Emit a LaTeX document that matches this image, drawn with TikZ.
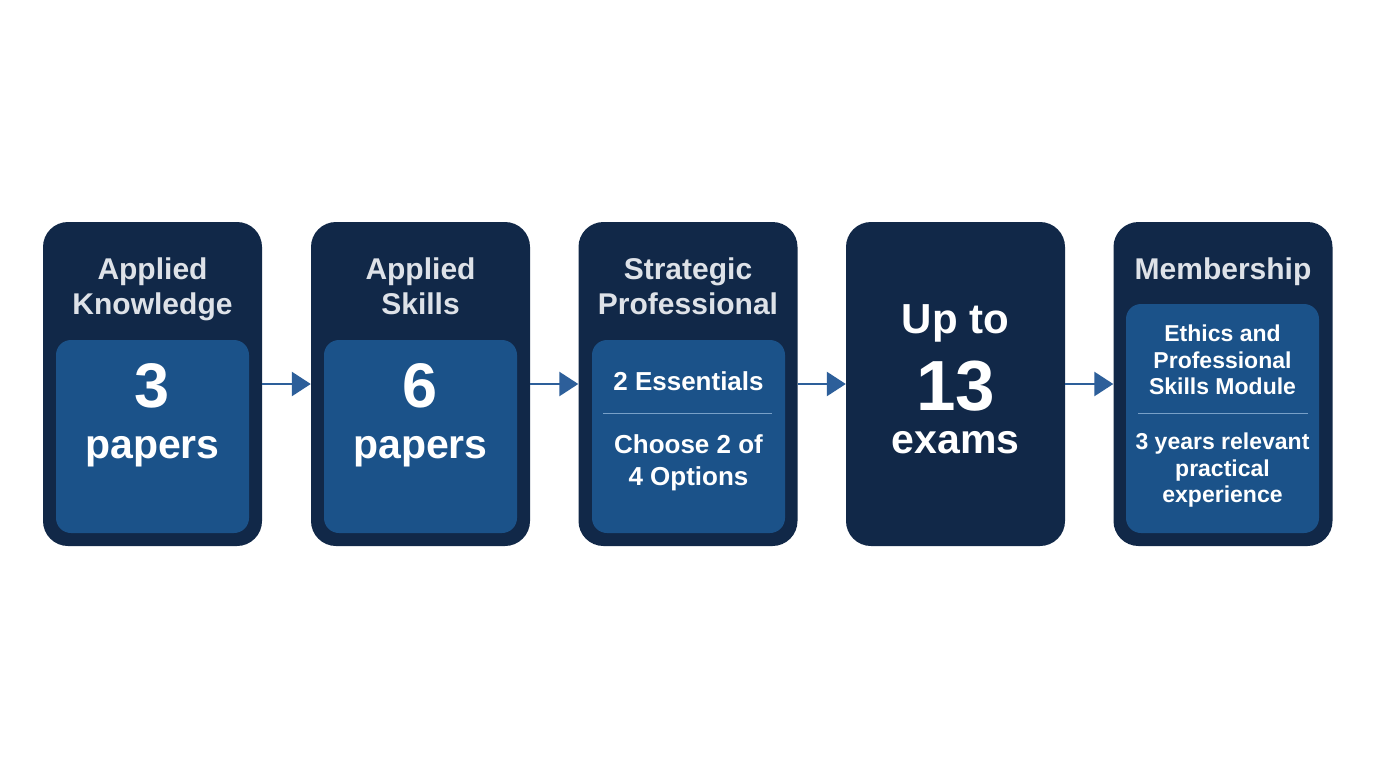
\documentclass[tikz,border=0pt]{standalone}
\usepackage{fontspec}
\setmainfont{Liberation Sans}
\usepackage{xcolor}
\definecolor{navy}{RGB}{17,40,72}
\definecolor{midblue}{RGB}{27,82,137}
\definecolor{arrowblue}{RGB}{45,95,154}
\definecolor{lightgrey}{RGB}{222,226,232}
\definecolor{rulegrey}{RGB}{120,160,200}
\usepackage{tikz}
\usetikzlibrary{arrows.meta}
\newcommand{\widthstage}{219pt}
\newcommand{\heightstage}{324pt}
\newcommand{\widthcard}{193pt}
\newcommand{\bigfont}[2]{\fontsize{#1}{#2}\selectfont}
\tikzset{
    stage/.style={fill=navy, rounded corners=25pt, minimum width=\widthstage, minimum height=\heightstage, inner sep=0pt},
    card/.style={fill=midblue, rounded corners=15pt, minimum width=\widthcard, inner sep=0pt},
    title/.style={anchor=north, inner sep=0pt, align=center, text=lightgrey, font=\bfseries\bigfont{30}{35}},
    count/.style={anchor=base, inner sep=0pt, text=white, font=\bfseries\bigfont{63}{70}},
    unit/.style={anchor=base, inner sep=0pt, text=white, font=\bfseries\bigfont{41}{46}},
    detail/.style={anchor=north, inner sep=0pt, align=center, text=white, font=\bfseries\bigfont{26}{32}},
    small/.style={anchor=north, inner sep=0pt, align=center, text=white, font=\bfseries\bigfont{23}{26.5}},
    divider/.style={rulegrey, line width=1pt},
    flow/.style={arrowblue, line width=2.6pt, -{Triangle[length=19pt, width=24pt]}}
}

\begin{document}
\begin{tikzpicture}[x=1pt, y=-1pt]
    \useasboundingbox[fill=white] (0,0) rectangle (1376,768);

    % stages
    \node[stage] (s1) at (152.5,384) {};
    \node[stage] (s2) at (420.5,384) {};
    \node[stage] (s3) at (688,384) {};
    \node[stage] (s4) at (955.5,384) {};
    \node[stage] (s5) at (1223,384) {};

    % inner cards
    \node[card, minimum height=193pt] (c1) at (152.5,436.5) {};
    \node[card, minimum height=193pt] (c2) at (420.5,436.5) {};
    \node[card, minimum height=193pt] (c3) at (688.5,436.5) {};
    \node[card, minimum height=229pt] (c5) at (1222.5,418.5) {};

    % titles
    \node[title] (t1) at (152.5,258) {Applied\\Knowledge};
    \node[title] (t2) at (420.5,258) {Applied\\Skills};
    \node[title] (t3) at (688,258) {Strategic\\Professional};
    \node[title] (t5) at (1223,258) {Membership};

    % contents
    \node[count] (n1) at (152.5,407) {3};
    \node[unit] (u1) at (152.5,458) {papers};
    \node[count] (n2) at (420.5,407) {6};
    \node[unit] (u2) at (420.5,458) {papers};

    \node[detail] (d3a) at (688.5,371) {2 Essentials};
    \draw[divider] (603,413) coordinate (r3a) -- (772,413) coordinate (r3b);
    \node[detail] (d3b) at (688.5,434) {Choose 2 of\\4 Options};

    \node[unit, font=\bfseries\bigfont{42}{46}] (u4a) at (955.5,333) {Up to};
    \node[count, font=\bfseries\bigfont{71}{76}] (n4) at (955.5,410) {13};
    \node[unit] (u4b) at (955.5,453) {exams};

    \node[small] (d5a) at (1222.5,325) {Ethics and\\Professional\\Skills Module};
    \draw[divider] (1138,413) coordinate (r5a) -- (1308,413) coordinate (r5b);
    \node[small] (d5b) at (1222.5,433) {3 years relevant\\practical\\experience};

    % arrows
    \draw[flow] (s1) -- (s2);
    \draw[flow] (s2) -- (s3);
    \draw[flow] (s3) -- (s4);
    \draw[flow] (s4) -- (s5);
\end{tikzpicture}
\end{document}
